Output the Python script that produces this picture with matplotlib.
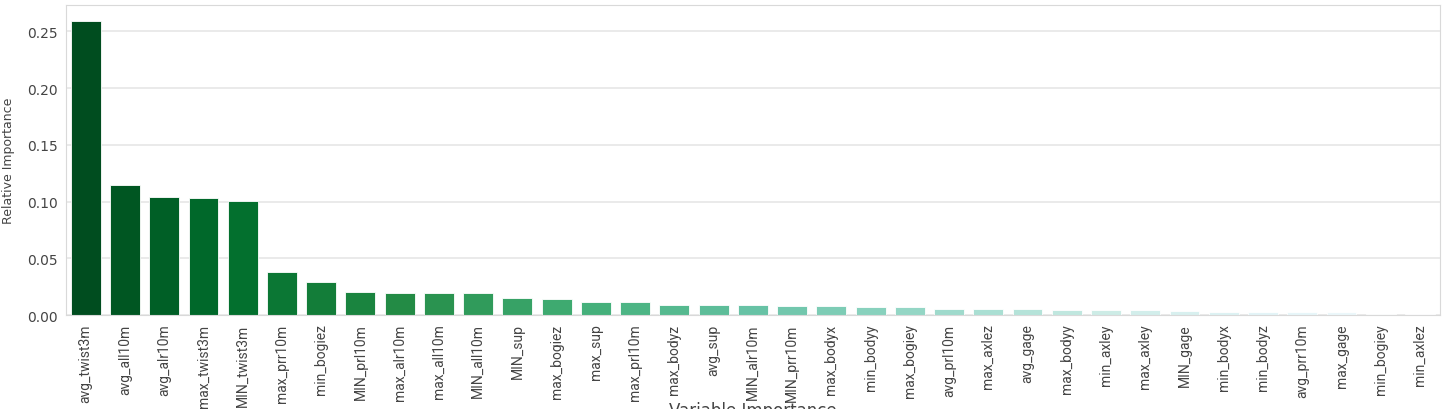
import matplotlib
matplotlib.use("Agg")
import matplotlib.pyplot as plt
import seaborn as sns
import numpy as np

# Data
variables = ["avg_twist3m", "avg_all10m", "avg_alr10m", "max_twist3m", "MIN_twist3m",
             "max_prr10m", "min_bogiez", "MIN_prl10m", "max_alr10m", "max_all10m",
             "MIN_all10m", "MIN_sup", "max_bogiez", "max_sup", "max_prl10m",
             "max_bodyz", "avg_sup", "MIN_alr10m", "MIN_prr10m", "max_bodyx",
             "min_bodyy", "max_bogiey", "avg_prl10m", "max_axlez", "avg_gage",
             "max_bodyy", "min_axley", "max_axley", "MIN_gage", "min_bodyx",
             "min_bodyz", "avg_prr10m", "max_gage", "min_bogiey", "min_axlez"]
importance = [0.2594, 0.1146, 0.1037, 0.1028, 0.1007,
              0.0376, 0.0294, 0.0206, 0.0194, 0.0194,
              0.0194, 0.0153, 0.0141, 0.0112, 0.0112,
              0.0091, 0.0091, 0.0091, 0.0082, 0.0082,
              0.0074, 0.0068, 0.0056, 0.0056, 0.0056,
              0.0044, 0.0044, 0.0044, 0.0035, 0.0027,
              0.0027, 0.0027, 0.0027, 0.0010, 0.0010]

sns.set_style("whitegrid")
plt.rcParams['font.family'] = ['DejaVu Sans']

fig = plt.figure(figsize=(14.52, 4.10), dpi=100)
ax = fig.add_axes([0.0455, 0.229, 0.946, 0.756])

colors = sns.color_palette("BuGn_r", len(variables))
x = np.arange(len(variables))
ax.bar(x, importance, width=0.76, color=colors, edgecolor="white", linewidth=0.6)

ax.set_xlim(-0.5, len(variables) - 0.5)
ax.set_ylim(0, 0.273)
ax.set_yticks([0.0, 0.05, 0.10, 0.15, 0.20, 0.25])
ax.set_yticklabels(["0.00", "0.05", "0.10", "0.15", "0.20", "0.25"],
                   fontsize=10, color="#444444")
ax.set_xticks(x)
ax.set_xticklabels(variables, rotation=90, fontsize=10, family="Roboto", color="#444444")
ax.tick_params(axis="both", length=0, pad=6)
ax.grid(axis="x", visible=False)
ax.grid(axis="y", color="#e6e6e6", linewidth=1.2)
for s in ax.spines.values():
    s.set_color("#d9d9d9")

ax.set_ylabel("Relative Importance", fontsize=9, color="#444444")
ax.yaxis.set_label_coords(-0.037, 0.5)
ax.set_xlabel("Variable Importance", fontsize=12, color="#444444", va="top")
ax.xaxis.set_label_coords(0.5, -0.277)

fig.savefig("out.png", dpi=100)
